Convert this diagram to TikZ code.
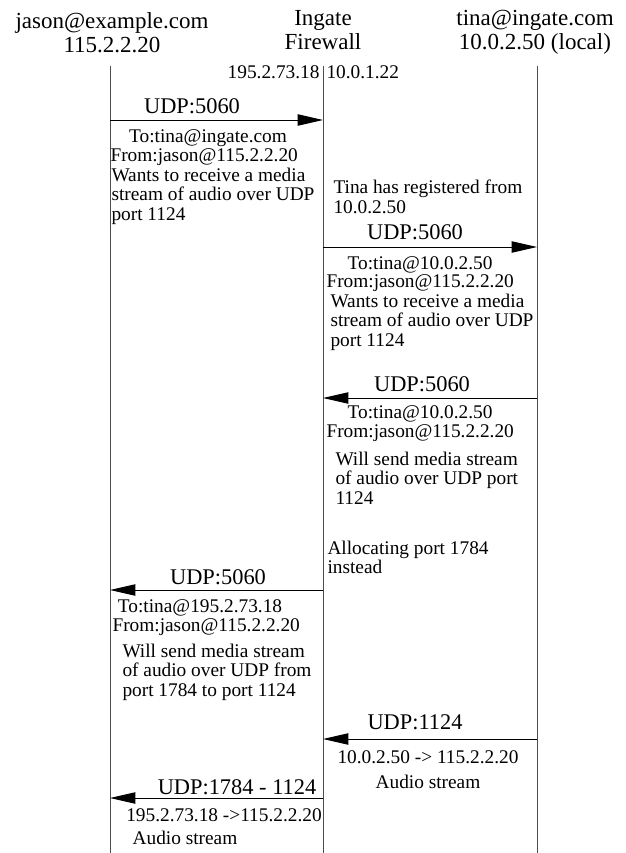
\documentclass[tikz,border=0pt]{standalone}
\usepackage{fontspec}
\setmainfont{Liberation Serif}
\usetikzlibrary{arrows.meta, positioning}

\begin{document}
\begin{tikzpicture}[x=0.75pt, y=-0.75pt, line width=0.75pt,
    head/.style={font=\fontsize{17.25}{18}\selectfont, align=center},
    udp/.style={font=\fontsize{16.8}{17}\selectfont, anchor=base, inner sep=0pt},
    txt/.style={font=\fontsize{14.5}{14.6}\selectfont, inner sep=0pt},
    blk/.style={txt, align=left, anchor=north west},
    ip/.style={font=\fontsize{14.5}{14.6}\selectfont, inner sep=0pt},
    msg/.style={-{Triangle[length=19pt, width=8.5pt]}},
    life/.style={draw=black!70}]

        \useasboundingbox (0,0) rectangle (625,853);

        % Parties
        \node[head] (jason) at (112,33) {jason@example.com\\115.2.2.20};
        \node[head] (ingate) at (323,30) {Ingate\\Firewall};
        \node[head] (tina) at (535,32) {tina@ingate.com\\10.0.2.50 (local)};

        % Lifelines
        \coordinate (J0) at (110,66);
        \coordinate (F0) at (323,66);
        \coordinate (T0) at (537,66);
        \coordinate (J9) at (110,853);
        \coordinate (F9) at (323,853);
        \coordinate (T9) at (537,853);
        \draw[life] (J0) -- (J9);
        \draw[life] (F0) -- (F9);
        \draw[life] (T0) -- (T9);

        % Firewall interfaces
        \node[ip, anchor=base east] (extip) at (320,78) {195.2.73.18};
        \node[ip, anchor=base west] (intip) at (326,78) {10.0.1.22};

        % Invite from jason to the firewall
        \coordinate (J1) at (110,120);
        \coordinate (F1) at (323,120);
        \draw[msg] (J1) -- (F1);
        \node[udp] (udp1) at (192,113) {UDP:5060};
        \node[txt, anchor=base] (to1) at (208,142) {To:tina@ingate.com};
        \node[txt, anchor=base west] (from1) at (110,161) {From:jason@115.2.2.20};
        \node[blk] (want1) at (111,167.5) {Wants to receive a media\\stream of audio over UDP\\port 1124};

        \node[blk] (reg) at (333,179.5) {Tina has registered from\\10.0.2.50};

        % Invite forwarded to tina
        \coordinate (F2) at (323,247);
        \coordinate (T2) at (537,247);
        \draw[msg] (F2) -- (T2);
        \node[udp] (udp2) at (415,239) {UDP:5060};
        \node[txt, anchor=base] (to2) at (420,269) {To:tina@10.0.2.50};
        \node[txt, anchor=base west] (from2) at (326,287) {From:jason@115.2.2.20};
        \node[blk] (want2) at (330,293.5) {Wants to receive a media\\stream of audio over UDP\\port 1124};

        % Answer from tina
        \coordinate (T3) at (537,398);
        \coordinate (F3) at (323,398);
        \draw[msg] (T3) -- (F3);
        \node[udp] (udp3) at (422,391) {UDP:5060};
        \node[txt, anchor=base] (to3) at (420,418) {To:tina@10.0.2.50};
        \node[txt, anchor=base west] (from3) at (326,437) {From:jason@115.2.2.20};
        \node[blk] (send3) at (335,451.5) {Will send media stream\\of audio over UDP port\\1124};

        \node[blk] (alloc) at (327,540.5) {Allocating port 1784\\instead};

        % Answer forwarded to jason
        \coordinate (F4) at (323,590);
        \coordinate (J4) at (110,590);
        \draw[msg] (F4) -- (J4);
        \node[udp] (udp4) at (218,584) {UDP:5060};
        \node[txt, anchor=base] (to4) at (200,612) {To:tina@195.2.73.18};
        \node[txt, anchor=base west] (from4) at (112,631) {From:jason@115.2.2.20};
        \node[blk] (send4) at (122,643.5) {Will send media stream\\of audio over UDP from\\port 1784 to port 1124};

        % Audio stream
        \coordinate (T5) at (537,739);
        \coordinate (F5) at (323,739);
        \draw[msg] (T5) -- (F5);
        \node[udp] (udp5) at (415,729) {UDP:1124};
        \node[txt, anchor=base] (ip5) at (428,763) {10.0.2.50 -> 115.2.2.20};
        \node[txt, anchor=base] (aud5) at (428,788) {Audio stream};

        \coordinate (F6) at (323,798);
        \coordinate (J6) at (110,798);
        \draw[msg] (F6) -- (J6);
        \node[udp] (udp6) at (237,794) {UDP:1784 - 1124};
        \node[txt, anchor=base] (ip6) at (224,821) {195.2.73.18 ->115.2.2.20};
        \node[txt, anchor=base] (aud6) at (185,844) {Audio stream};

    \end{tikzpicture}
\end{document}
